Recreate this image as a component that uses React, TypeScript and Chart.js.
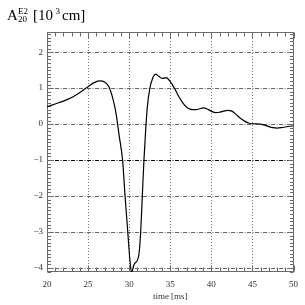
import React, { useEffect, useRef } from "react";
import { Chart, registerables } from "chart.js";

Chart.register(...registerables);

// ---- data ----
const timeMs = [
  20.0, 21.0, 22.0, 23.0, 24.0, 25.0, 25.8, 26.5, 27.0, 27.5, 28.0, 28.4, 28.8,
  29.2, 29.5, 29.8, 30.1, 30.3, 30.6, 31.0, 31.2, 31.4, 31.6, 31.8, 32.0, 32.2,
  32.5, 32.9, 33.2, 33.6, 34.0, 34.5, 35.0, 35.5, 36.0, 36.5, 37.0, 37.5, 38.0,
  38.5, 39.0, 39.5, 40.0, 40.5, 41.0, 41.5, 42.0, 42.5, 43.0, 43.5, 44.0, 44.5,
  45.0, 45.5, 46.0, 46.5, 47.0, 47.5, 48.0, 48.5, 49.0, 49.5, 50.0,
];
const amplitudeE2 = [
  0.48, 0.56, 0.64, 0.74, 0.88, 1.04, 1.16, 1.2, 1.17, 1.05, 0.72, 0.3, -0.35,
  -1.0, -2.0, -2.9, -3.8, -4.12, -3.9, -3.78, -3.6, -3.0, -2.0, -1.0, -0.2, 0.45,
  0.97, 1.3, 1.39, 1.33, 1.27, 1.29, 1.18, 1.0, 0.78, 0.6, 0.47, 0.41, 0.4,
  0.42, 0.45, 0.42, 0.36, 0.32, 0.33, 0.36, 0.38, 0.36, 0.27, 0.17, 0.09, 0.03,
  0.01, 0.01, 0.0, -0.03, -0.07, -0.1, -0.11, -0.1, -0.08, -0.06, -0.05,
];
const xLimits = [20, 50];
const yLimits = [-4.11, 2.56];
const xMajorStep = 5;
const yMajorStep = 1;
const referenceLevel = -1;
const xAxisTitle = "time [ms]";

const SERIF = "'Liberation Serif', 'DejaVu Serif', serif";

const rootFrame = {
  id: "rootFrame",
  beforeDatasetsDraw(chart: any) {
    const { ctx, chartArea: a, scales } = chart;
    const x = scales.x;
    const y = scales.y;
    const L = Math.round(a.left) + 0.5;
    const R = Math.round(a.right) - 0.5;
    const T = Math.round(a.top) + 0.5;
    const B = Math.round(a.bottom) - 0.5;
    ctx.save();
    ctx.strokeStyle = "#6a6a6a";
    ctx.lineWidth = 1;
    ctx.setLineDash([]);
    ctx.strokeRect(L, T, R - L, B - T);
    ctx.beginPath();
    for (let v = xLimits[0]; v <= xLimits[1]; v += 1) {
      const px = Math.round(x.getPixelForValue(v)) + 0.5;
      const len = v % 5 === 0 ? 6 : 4;
      ctx.moveTo(px, B);
      ctx.lineTo(px, B - len);
      ctx.moveTo(px, T);
      ctx.lineTo(px, T + len);
    }
    for (let i = Math.ceil(yLimits[0] * 10); i <= Math.floor(yLimits[1] * 10); i++) {
      const py = Math.round(y.getPixelForValue(i / 10)) + 0.5;
      const len = i % 10 === 0 ? 6 : 3.5;
      ctx.moveTo(L, py);
      ctx.lineTo(L + len, py);
      ctx.moveTo(R, py);
      ctx.lineTo(R - len, py);
    }
    ctx.stroke();
    ctx.restore();
  },
};

const titlePlugin = {
  id: "rootTitle",
  afterDraw(chart: any) {
    const { ctx } = chart;
    ctx.save();
    ctx.fillStyle = "#000";
    ctx.textBaseline = "alphabetic";
    ctx.textAlign = "left";
    ctx.font = `15px ${SERIF}`;
    ctx.fillText("A", 7, 20);
    ctx.font = `9px ${SERIF}`;
    ctx.fillText("E2", 18, 14);
    ctx.fillText("20", 18, 21.5);
    ctx.font = `15px ${SERIF}`;
    ctx.fillText("[10", 33, 20);
    ctx.font = `9px ${SERIF}`;
    ctx.fillText("3", 55.5, 14);
    ctx.font = `15px ${SERIF}`;
    ctx.fillText("cm]", 62, 20);
    ctx.restore();
  },
};

const fmt = (v: number) => (v < 0 ? "\u2212" + Math.abs(v) : String(v));

export default function App() {
  const ref = useRef<HTMLCanvasElement | null>(null);
  useEffect(() => {
    if (!ref.current) return;
    const chart = new Chart(ref.current, {
      type: "line",
      data: {
        datasets: [
          {
            data: timeMs.map((t, i) => ({ x: t, y: amplitudeE2[i] })),
            borderColor: "#000",
            borderWidth: 1.2,
            pointRadius: 0,
            fill: false,
            cubicInterpolationMode: "monotone",
          },
        ],
      },
      options: {
        responsive: false,
        animation: false,
        devicePixelRatio: 1,
        layout: { padding: { left: 0, top: 32, right: 7, bottom: 0 } },
        plugins: { legend: { display: false }, tooltip: { enabled: false } },
        scales: {
          x: {
            type: "linear",
            min: xLimits[0],
            max: xLimits[1],
            afterFit: (s: any) => {
              s.height = 33;
            },
            ticks: {
              stepSize: xMajorStep,
              includeBounds: false,
              padding: 7,
              color: "#333",
              font: { family: SERIF, size: 9 },
              maxRotation: 0,
              callback: (v: any) => fmt(Number(v)),
            },
            grid: {
              drawTicks: false,
              color: "#777",
              lineWidth: 1,
            },
            border: { display: false, dash: [1, 2] },
            title: {
              display: true,
              text: xAxisTitle,
              color: "#333",
              font: { family: SERIF, size: 9 },
              padding: { top: 0, bottom: 3 },
            },
          },
          y: {
            type: "linear",
            min: yLimits[0],
            max: yLimits[1],
            afterFit: (s: any) => {
              s.width = 47;
            },
            ticks: {
              stepSize: yMajorStep,
              includeBounds: false,
              padding: 4,
              color: "#333",
              font: { family: SERIF, size: 9 },
              callback: (v: any) => fmt(Number(v)),
            },
            grid: {
              drawTicks: false,
              color: (c: any) =>
                c.tick && Math.abs(c.tick.value - referenceLevel) < 1e-6 ? "#000" : "#666",
              lineWidth: 1,
            },
            border: { display: false, dash: [4, 1.5, 1, 1.5] },
          },
        },
      },
      plugins: [rootFrame, titlePlugin],
    } as any);
    return () => chart.destroy();
  }, []);
  return (
    <div style={{ position: "fixed", left: 0, top: 0, width: 305, height: 305, background: "#fff" }}>
      <canvas ref={ref} width={305} height={305} />
    </div>
  );
}
